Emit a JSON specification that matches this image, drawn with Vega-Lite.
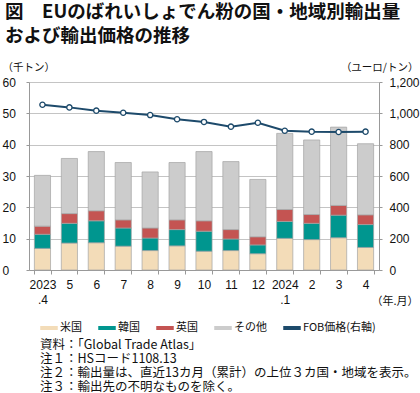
{
  "$schema": "https://vega.github.io/schema/vega-lite/v6.json",
  "padding": {"left": 2, "top": 2, "right": 2, "bottom": 0},
  "background": "white",
  "width": 350,
  "height": 188,
  "config": {
    "view": {"stroke": null},
    "font": "Noto Sans CJK JP"
  },
  "title": {
    "text": ["図　EUのばれいしょでん粉の国・地域別輸出量", "　　および輸出価格の推移"],
    "anchor": "start",
    "frame": "bounds",
    "font": "Noto Sans CJK JP",
    "fontSize": 18.5,
    "fontWeight": "bold",
    "lineHeight": 24,
    "color": "#111",
    "offset": 17,
    "dx": 3
  },
  "data": {
    "values": [
      {"month": "2023.4", "米国": 6.9, "韓国": 4.5, "英国": 2.6, "その他": 16.2, "FOB": 1055},
      {"month": "2023.5", "米国": 8.6, "韓国": 6.3, "英国": 3.1, "その他": 17.6, "FOB": 1038},
      {"month": "2023.6", "米国": 8.7, "韓国": 7.0, "英国": 3.2, "その他": 18.9, "FOB": 1017},
      {"month": "2023.7", "米国": 7.6, "韓国": 5.8, "英国": 2.6, "その他": 18.3, "FOB": 1004},
      {"month": "2023.8", "米国": 6.2, "韓国": 4.0, "英国": 3.2, "その他": 17.9, "FOB": 989},
      {"month": "2023.9", "米国": 7.7, "韓国": 5.2, "英国": 3.1, "その他": 18.3, "FOB": 962},
      {"month": "2023.10", "米国": 6.0, "韓国": 6.4, "英国": 3.3, "その他": 22.1, "FOB": 945},
      {"month": "2023.11", "米国": 6.2, "韓国": 3.7, "英国": 3.0, "その他": 21.7, "FOB": 915},
      {"month": "2023.12", "米国": 5.2, "韓国": 2.8, "英国": 2.6, "その他": 18.3, "FOB": 940},
      {"month": "2024.1", "米国": 10.1, "韓国": 5.4, "英国": 3.8, "その他": 24.3, "FOB": 889},
      {"month": "2024.2", "米国": 9.7, "韓国": 5.2, "英国": 2.8, "その他": 23.8, "FOB": 883},
      {"month": "2024.3", "米国": 10.3, "韓国": 7.2, "英国": 3.1, "その他": 25.0, "FOB": 881},
      {"month": "2024.4", "米国": 7.2, "韓国": 7.3, "英国": 3.1, "その他": 22.7, "FOB": 883}
    ]
  },
  "encoding": {
    "x": {
      "field": "month",
      "type": "ordinal",
      "sort": null,
      "scale": {"paddingInner": 0.4, "paddingOuter": 0.2},
      "axis": {
        "title": "（年.月）",
        "titleAngle": 0,
        "titleAlign": "right",
        "titleBaseline": "middle",
        "titleX": 389,
        "titleY": 31,
        "titleFont": "Noto Sans CJK JP",
        "titleFontSize": 11,
        "titleFontWeight": "normal",
        "titleColor": "#111",
        "labelAngle": 0,
        "labelExpr": "isString(datum.value) ? (indexof(['2023.4','2024.1'], datum.value) >= 0 ? [slice(datum.value, 0, 4), slice(datum.value, 4)] : slice(datum.value, 5)) : ''",
        "labelFont": "Liberation Sans",
        "labelFontSize": 12,
        "labelColor": "#111",
        "labelLineHeight": 15,
        "labelBaseline": "top",
        "labelPadding": 5,
        "tickBand": "extent",
        "tickSize": 4,
        "tickColor": "#999",
        "domainColor": "#999",
        "grid": false
      }
    }
  },
  "layer": [
    {
      "transform": [
        {"fold": ["米国", "韓国", "英国", "その他"], "as": ["country", "value"]},
        {"window": [{"op": "row_number", "as": "rank"}], "groupby": ["month"]}
      ],
      "mark": {"type": "bar", "stroke": "#a3a3a3", "strokeWidth": 0.7},
      "encoding": {
        "y": {
          "field": "value",
          "type": "quantitative",
          "stack": "zero",
          "scale": {"domain": [0, 60]},
          "axis": {
            "title": "（千トン）",
            "titleAngle": 0,
            "titleAlign": "left",
            "titleBaseline": "middle",
            "titleX": -27,
            "titleY": -15,
            "titleFont": "Noto Sans CJK JP",
            "titleFontSize": 10.5,
            "titleFontWeight": "normal",
            "titleColor": "#111",
            "values": [0, 10, 20, 30, 40, 50, 60],
            "grid": true,
            "gridColor": "#c4c4c4",
            "domainColor": "#999",
            "tickColor": "#999",
            "tickSize": 3,
            "labelAlign": "left",
            "labelPadding": 24,
            "labelFont": "Liberation Sans",
            "labelFontSize": 12,
            "labelColor": "#111"
          }
        },
        "color": {
          "field": "country",
          "type": "nominal",
          "scale": {
            "domain": ["米国", "韓国", "英国", "その他", "FOB価格(右軸)"],
            "range": ["#f3dcb8", "#00968f", "#c45452", "#cccccc", "#1d4a6b"]
          },
          "legend": {
            "orient": "none",
            "legendX": 11,
            "legendY": 237,
            "padding": 0,
            "direction": "horizontal",
            "title": ["資料：「Global Trade Atlas」", "注１：HSコード1108.13", "注２：輸出量は、直近13カ月（累計）の上位３カ国・地域を表示。", "注３：輸出先の不明なものを除く。"],
            "titleOrient": "bottom",
            "titleAnchor": "start",
            "titleAlign": "left",
            "titleBaseline": "top",
            "titleLimit": 1000,
            "titleFont": "Noto Sans CJK JP",
            "titleFontSize": 12.5,
            "titleFontWeight": "normal",
            "titleLineHeight": 14,
            "titleColor": "#111",
            "titlePadding": 6,
            "symbolType": "M-1,-0.16H1V0.16H-1Z",
            "symbolSize": 256,
            "labelFont": "Noto Sans CJK JP",
            "labelFontSize": 11,
            "labelColor": "#111",
            "labelOffset": 2,
            "columnPadding": 14,
            "encode": {
              "symbols": {
                "update": {
                  "shape": {"signal": "datum.label == 'FOB価格(右軸)' ? 'M-1,0H-0.28M0.28,0H1M-0.28,0A0.28,0.28 0 1,1 0.28,0A0.28,0.28 0 1,1 -0.28,0' : 'M-1,-0.16H1V0.16H-1Z'"},
                  "fill": {"signal": "datum.label == '米国' ? '#f3dcb8' : datum.label == '韓国' ? '#00968f' : datum.label == '英国' ? '#c45452' : datum.label == 'その他' ? '#cccccc' : '#ffffff'"},
                  "stroke": {"signal": "datum.label == 'FOB価格(右軸)' ? '#1d4a6b' : '#a3a3a3'"},
                  "strokeWidth": {"signal": "datum.label == 'FOB価格(右軸)' ? 1.5 : 0.6"}
                }
              }
            }
          }
        },
        "order": {"field": "rank", "type": "quantitative"}
      }
    },
    {
      "encoding": {
        "y": {
          "field": "FOB",
          "type": "quantitative",
          "scale": {"domain": [0, 1200]},
          "axis": {
            "orient": "right",
            "title": "（ユーロ/トン）",
            "titleAngle": 0,
            "titleAlign": "right",
            "titleBaseline": "middle",
            "titleX": 39,
            "titleY": -15,
            "titleFont": "Noto Sans CJK JP",
            "titleFontSize": 10.5,
            "titleFontWeight": "normal",
            "titleColor": "#111",
            "values": [0, 200, 400, 600, 800, 1000, 1200],
            "format": ",d",
            "grid": false,
            "domainColor": "#999",
            "tickColor": "#999",
            "tickSize": 3,
            "labelPadding": 7,
            "labelFont": "Liberation Sans",
            "labelFontSize": 12,
            "labelColor": "#111"
          }
        }
      },
      "layer": [
        {
          "mark": {"type": "line", "strokeWidth": 2},
          "encoding": {"color": {"datum": "FOB価格(右軸)"}}
        },
        {
          "mark": {"type": "point", "filled": true, "fill": "#ffffff", "stroke": "#1d4a6b", "strokeWidth": 1.3, "size": 28, "opacity": 1},
          "encoding": {}
        }
      ]
    }
  ],
  "resolve": {"scale": {"y": "independent"}}
}
